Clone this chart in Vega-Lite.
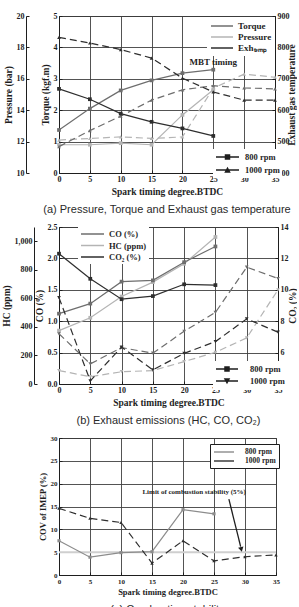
{
  "$schema": "https://vega.github.io/schema/vega-lite/v6.json",
  "padding": {"left": 0, "top": 11, "right": 0, "bottom": 0},
  "spacing": 7,
  "config": {
    "view": {"stroke": "#1e1e1e", "strokeWidth": 1},
    "axis": {
      "labelFont": "Liberation Serif", "labelFontWeight": "bold", "labelFontSize": 8, "labelColor": "#1e1e1e",
      "titleFont": "Liberation Serif", "titleFontWeight": "bold", "titleFontSize": 9.5, "titleColor": "#1e1e1e",
      "domainColor": "#1e1e1e", "domainWidth": 1, "tickColor": "#1e1e1e", "tickSize": -3, "labelPadding": 5,
      "gridColor": "#404040", "gridWidth": 0.9, "gridOpacity": 1, "titlePadding": 3,
      "labelFlush": false, "labelOverlap": false
    },
    "legend": {"labelFont": "Liberation Serif", "labelFontWeight": "bold", "labelColor": "#1e1e1e", "fillColor": "white"},
    "title": {"font": "Liberation Sans", "fontWeight": "normal", "fontSize": 11, "color": "#2a2a2a", "orient": "bottom", "anchor": "middle", "offset": 8}
  },
  "resolve": {"scale": {"color": "independent", "shape": "independent"}},
  "vconcat": [
    {
      "width": 216, "height": 157,
      "title": {"text": "(a) Pressure, Torque and Exhaust gas temperature"},
      "data": {"values": [
        {"q": "Torque", "rpm": "800 rpm", "x": 0, "v": 1.37},
        {"q": "Torque", "rpm": "800 rpm", "x": 5, "v": 2.05},
        {"q": "Torque", "rpm": "800 rpm", "x": 10, "v": 2.63},
        {"q": "Torque", "rpm": "800 rpm", "x": 15, "v": 2.95},
        {"q": "Torque", "rpm": "800 rpm", "x": 20, "v": 3.18},
        {"q": "Torque", "rpm": "800 rpm", "x": 25, "v": 3.29},
        {"q": "Torque", "rpm": "1000 rpm", "x": 0, "v": 0.84},
        {"q": "Torque", "rpm": "1000 rpm", "x": 5, "v": 1.35},
        {"q": "Torque", "rpm": "1000 rpm", "x": 10, "v": 1.81},
        {"q": "Torque", "rpm": "1000 rpm", "x": 15, "v": 2.32},
        {"q": "Torque", "rpm": "1000 rpm", "x": 20, "v": 2.65},
        {"q": "Torque", "rpm": "1000 rpm", "x": 25, "v": 2.78},
        {"q": "Torque", "rpm": "1000 rpm", "x": 30, "v": 2.71},
        {"q": "Torque", "rpm": "1000 rpm", "x": 35, "v": 2.68},
        {"q": "Pressure", "rpm": "800 rpm", "x": 0, "v": 11.8},
        {"q": "Pressure", "rpm": "800 rpm", "x": 5, "v": 11.8},
        {"q": "Pressure", "rpm": "800 rpm", "x": 10, "v": 11.9},
        {"q": "Pressure", "rpm": "800 rpm", "x": 15, "v": 11.8},
        {"q": "Pressure", "rpm": "800 rpm", "x": 20, "v": 13.7},
        {"q": "Pressure", "rpm": "800 rpm", "x": 25, "v": 15.3},
        {"q": "Pressure", "rpm": "1000 rpm", "x": 0, "v": 12.1},
        {"q": "Pressure", "rpm": "1000 rpm", "x": 5, "v": 12.2},
        {"q": "Pressure", "rpm": "1000 rpm", "x": 10, "v": 12.3},
        {"q": "Pressure", "rpm": "1000 rpm", "x": 15, "v": 12.2},
        {"q": "Pressure", "rpm": "1000 rpm", "x": 20, "v": 12.3},
        {"q": "Pressure", "rpm": "1000 rpm", "x": 25, "v": 15.4},
        {"q": "Pressure", "rpm": "1000 rpm", "x": 30, "v": 16.3},
        {"q": "Pressure", "rpm": "1000 rpm", "x": 35, "v": 16.1},
        {"q": "Exhₜₑₘₚ", "rpm": "800 rpm", "x": 0, "v": 668},
        {"q": "Exhₜₑₘₚ", "rpm": "800 rpm", "x": 5, "v": 635},
        {"q": "Exhₜₑₘₚ", "rpm": "800 rpm", "x": 10, "v": 589},
        {"q": "Exhₜₑₘₚ", "rpm": "800 rpm", "x": 15, "v": 563},
        {"q": "Exhₜₑₘₚ", "rpm": "800 rpm", "x": 20, "v": 542},
        {"q": "Exhₜₑₘₚ", "rpm": "800 rpm", "x": 25, "v": 518},
        {"q": "Exhₜₑₘₚ", "rpm": "1000 rpm", "x": 0, "v": 832},
        {"q": "Exhₜₑₘₚ", "rpm": "1000 rpm", "x": 5, "v": 814},
        {"q": "Exhₜₑₘₚ", "rpm": "1000 rpm", "x": 10, "v": 793},
        {"q": "Exhₜₑₘₚ", "rpm": "1000 rpm", "x": 15, "v": 766},
        {"q": "Exhₜₑₘₚ", "rpm": "1000 rpm", "x": 20, "v": 702},
        {"q": "Exhₜₑₘₚ", "rpm": "1000 rpm", "x": 25, "v": 658},
        {"q": "Exhₜₑₘₚ", "rpm": "1000 rpm", "x": 30, "v": 632},
        {"q": "Exhₜₑₘₚ", "rpm": "1000 rpm", "x": 35, "v": 632}
      ]},
      "encoding": {
        "x": {"field": "x", "type": "quantitative", "scale": {"domain": [0, 35], "nice": false},
              "axis": {"values": [0, 5, 10, 15, 20, 25, 30, 35], "title": "Spark timing degree.BTDC", "grid": true}}
      },
      "layer": [
        {
          "transform": [{"filter": "datum.q === 'Pressure'"}],
          "encoding": {"y": {"field": "v", "type": "quantitative", "scale": {"domain": [10, 20], "nice": false},
            "axis": {"orient": "left", "offset": 33, "values": [10, 12, 14, 16, 18, 20], "grid": false, "title": "Pressure (bar)"}}},
          "layer": [
            {"transform": [{"filter": "datum.rpm === '800 rpm'"}],
             "mark": {"type": "line", "strokeWidth": 1.2},
             "encoding": {"color": {"field": "q", "type": "nominal", "scale": {"domain": ["Torque", "Pressure", "Exhₜₑₘₚ"], "range": ["#6e6e6e", "#b4b4b4", "#2e2e2e"]},
               "legend": {"orient": "none", "legendX": 148, "legendY": 1, "title": null, "symbolType": "M-1,0H3.4", "symbolSize": 100, "symbolStrokeWidth": 1.5, "labelFontSize": 9, "padding": 3, "rowPadding": 0, "labelOffset": 16}}}},
            {"transform": [{"filter": "datum.rpm === '1000 rpm'"}],
             "mark": {"type": "line", "strokeWidth": 1.2, "strokeDash": [7, 4]},
             "encoding": {"color": {"field": "q", "type": "nominal", "scale": {"domain": ["Torque", "Pressure", "Exhₜₑₘₚ"], "range": ["#6e6e6e", "#b4b4b4", "#2e2e2e"]}}}},
            {"transform": [{"filter": "datum.rpm === '800 rpm'"}],
             "mark": {"type": "point", "shape": "square", "filled": true, "size": 14, "opacity": 1, "color": "#b4b4b4"}},
            {"transform": [{"filter": "datum.rpm === '1000 rpm'"}],
             "mark": {"type": "point", "shape": "triangle-up", "filled": true, "size": 14, "opacity": 1, "color": "#b4b4b4"}}
          ]
        },
        {
          "transform": [{"filter": "datum.q === 'Torque'"}],
          "encoding": {"y": {"field": "v", "type": "quantitative", "scale": {"domain": [0, 5], "nice": false},
            "axis": {"orient": "left", "values": [0, 1, 2, 3, 4, 5], "grid": true, "title": "Torque (kgf.m)"}}},
          "layer": [
            {"transform": [{"filter": "datum.rpm === '800 rpm'"}],
             "mark": {"type": "line", "strokeWidth": 1.2},
             "encoding": {"color": {"field": "q", "type": "nominal", "scale": {"domain": ["Torque", "Pressure", "Exhₜₑₘₚ"], "range": ["#6e6e6e", "#b4b4b4", "#2e2e2e"]}}}},
            {"transform": [{"filter": "datum.rpm === '1000 rpm'"}],
             "mark": {"type": "line", "strokeWidth": 1.2, "strokeDash": [7, 4]},
             "encoding": {"color": {"field": "q", "type": "nominal", "scale": {"domain": ["Torque", "Pressure", "Exhₜₑₘₚ"], "range": ["#6e6e6e", "#b4b4b4", "#2e2e2e"]}}}},
            {"transform": [{"filter": "datum.rpm === '800 rpm'"}],
             "mark": {"type": "point", "shape": "square", "filled": true, "size": 14, "opacity": 1, "color": "#6e6e6e"}},
            {"transform": [{"filter": "datum.rpm === '1000 rpm'"}],
             "mark": {"type": "point", "shape": "triangle-up", "filled": true, "size": 14, "opacity": 1, "color": "#6e6e6e"}},
            {"mark": {"type": "point", "filled": true, "size": 100, "opacity": 0, "color": "#1e1e1e"},
             "encoding": {"shape": {"field": "rpm", "type": "nominal",
               "scale": {"domain": ["800 rpm", "1000 rpm"], "range": ["M-1,-0.13H3.6V0.13H-1ZM0.75,-0.55H1.85V0.55H0.75Z", "M-1,-0.13H3.6V0.13H-1ZM1.3,-0.65L1.95,0.55H0.65Z"]},
               "legend": {"orient": "none", "legendX": 154, "legendY": 133, "title": null, "symbolSize": 100, "symbolOpacity": 1, "symbolFillColor": "#1e1e1e", "labelFontSize": 8.5, "padding": 2, "rowPadding": 0, "labelOffset": 18}}}}
          ]
        },
        {
          "transform": [{"filter": "datum.q === 'Exhₜₑₘₚ'"}],
          "encoding": {"y": {"field": "v", "type": "quantitative", "scale": {"domain": [400, 900], "nice": false},
            "axis": {"orient": "right", "values": [400, 500, 600, 700, 800, 900], "grid": false, "title": "Exhaust gas temperature", "titleAngle": 270, "titleBaseline": "top", "titlePadding": -3}}},
          "layer": [
            {"transform": [{"filter": "datum.rpm === '800 rpm'"}],
             "mark": {"type": "line", "strokeWidth": 1.2},
             "encoding": {"color": {"field": "q", "type": "nominal", "scale": {"domain": ["Torque", "Pressure", "Exhₜₑₘₚ"], "range": ["#6e6e6e", "#b4b4b4", "#2e2e2e"]}}}},
            {"transform": [{"filter": "datum.rpm === '1000 rpm'"}],
             "mark": {"type": "line", "strokeWidth": 1.2, "strokeDash": [7, 4]},
             "encoding": {"color": {"field": "q", "type": "nominal", "scale": {"domain": ["Torque", "Pressure", "Exhₜₑₘₚ"], "range": ["#6e6e6e", "#b4b4b4", "#2e2e2e"]}}}},
            {"transform": [{"filter": "datum.rpm === '800 rpm'"}],
             "mark": {"type": "point", "shape": "square", "filled": true, "size": 14, "opacity": 1, "color": "#2e2e2e"}},
            {"transform": [{"filter": "datum.rpm === '1000 rpm'"}],
             "mark": {"type": "point", "shape": "triangle-up", "filled": true, "size": 14, "opacity": 1, "color": "#2e2e2e"}}
          ]
        },
        {
          "data": {"values": [{"x": 25, "v": 3.55, "t": "MBT timing"}]},
          "mark": {"type": "text", "font": "Liberation Serif", "fontWeight": "bold", "fontSize": 9, "fill": "#1e1e1e"},
          "encoding": {
            "y": {"field": "v", "type": "quantitative", "scale": {"domain": [0, 5], "nice": false}, "axis": null},
            "text": {"field": "t"}
          }
        }
      ],
      "resolve": {"scale": {"y": "independent"}}
    },
    {
      "width": 219, "height": 157,
      "title": {"text": "(b) Exhaust emissions (HC, CO, CO₂)"},
      "data": {"values": [
        {"q": "CO (%)", "rpm": "800 rpm", "x": 0, "v": 1.12},
        {"q": "CO (%)", "rpm": "800 rpm", "x": 5, "v": 1.28},
        {"q": "CO (%)", "rpm": "800 rpm", "x": 10, "v": 1.63},
        {"q": "CO (%)", "rpm": "800 rpm", "x": 15, "v": 1.65},
        {"q": "CO (%)", "rpm": "800 rpm", "x": 20, "v": 1.94},
        {"q": "CO (%)", "rpm": "800 rpm", "x": 25, "v": 2.19},
        {"q": "CO (%)", "rpm": "1000 rpm", "x": 0, "v": 0.80},
        {"q": "CO (%)", "rpm": "1000 rpm", "x": 5, "v": 0.32},
        {"q": "CO (%)", "rpm": "1000 rpm", "x": 10, "v": 0.58},
        {"q": "CO (%)", "rpm": "1000 rpm", "x": 15, "v": 0.49},
        {"q": "CO (%)", "rpm": "1000 rpm", "x": 20, "v": 0.84},
        {"q": "CO (%)", "rpm": "1000 rpm", "x": 25, "v": 1.14},
        {"q": "CO (%)", "rpm": "1000 rpm", "x": 30, "v": 1.86},
        {"q": "CO (%)", "rpm": "1000 rpm", "x": 35, "v": 1.68},
        {"q": "HC (ppm)", "rpm": "800 rpm", "x": 0, "v": 374},
        {"q": "HC (ppm)", "rpm": "800 rpm", "x": 5, "v": 464},
        {"q": "HC (ppm)", "rpm": "800 rpm", "x": 10, "v": 613},
        {"q": "HC (ppm)", "rpm": "800 rpm", "x": 15, "v": 714},
        {"q": "HC (ppm)", "rpm": "800 rpm", "x": 20, "v": 842},
        {"q": "HC (ppm)", "rpm": "800 rpm", "x": 25, "v": 1030},
        {"q": "HC (ppm)", "rpm": "1000 rpm", "x": 0, "v": 94},
        {"q": "HC (ppm)", "rpm": "1000 rpm", "x": 5, "v": 51},
        {"q": "HC (ppm)", "rpm": "1000 rpm", "x": 10, "v": 86},
        {"q": "HC (ppm)", "rpm": "1000 rpm", "x": 15, "v": 94},
        {"q": "HC (ppm)", "rpm": "1000 rpm", "x": 20, "v": 157},
        {"q": "HC (ppm)", "rpm": "1000 rpm", "x": 25, "v": 222},
        {"q": "HC (ppm)", "rpm": "1000 rpm", "x": 30, "v": 323},
        {"q": "HC (ppm)", "rpm": "1000 rpm", "x": 35, "v": 660},
        {"q": "CO₂ (%)", "rpm": "800 rpm", "x": 0, "v": 12.3},
        {"q": "CO₂ (%)", "rpm": "800 rpm", "x": 5, "v": 10.7},
        {"q": "CO₂ (%)", "rpm": "800 rpm", "x": 10, "v": 9.4},
        {"q": "CO₂ (%)", "rpm": "800 rpm", "x": 15, "v": 9.6},
        {"q": "CO₂ (%)", "rpm": "800 rpm", "x": 20, "v": 10.35},
        {"q": "CO₂ (%)", "rpm": "800 rpm", "x": 25, "v": 10.3},
        {"q": "CO₂ (%)", "rpm": "1000 rpm", "x": 0, "v": 9.5},
        {"q": "CO₂ (%)", "rpm": "1000 rpm", "x": 5, "v": 4.2},
        {"q": "CO₂ (%)", "rpm": "1000 rpm", "x": 10, "v": 6.35},
        {"q": "CO₂ (%)", "rpm": "1000 rpm", "x": 15, "v": 4.9},
        {"q": "CO₂ (%)", "rpm": "1000 rpm", "x": 20, "v": 5.95},
        {"q": "CO₂ (%)", "rpm": "1000 rpm", "x": 25, "v": 6.7},
        {"q": "CO₂ (%)", "rpm": "1000 rpm", "x": 30, "v": 8.15},
        {"q": "CO₂ (%)", "rpm": "1000 rpm", "x": 35, "v": 7.3}
      ]},
      "encoding": {
        "x": {"field": "x", "type": "quantitative", "scale": {"domain": [0, 35], "nice": false},
              "axis": {"values": [0, 5, 10, 15, 20, 25, 30, 35], "title": "Spark timing degree.BTDC", "grid": true}}
      },
      "layer": [
        {
          "transform": [{"filter": "datum.q === 'HC (ppm)'"}],
          "encoding": {"y": {"field": "v", "type": "quantitative", "scale": {"domain": [0, 1100], "nice": false},
            "axis": {"orient": "left", "offset": 25, "values": [0, 200, 400, 600, 800, 1000], "grid": false, "title": "HC (ppm)"}}},
          "layer": [
            {"transform": [{"filter": "datum.rpm === '800 rpm'"}],
             "mark": {"type": "line", "strokeWidth": 1.2},
             "encoding": {"color": {"field": "q", "type": "nominal", "scale": {"domain": ["CO (%)", "HC (ppm)", "CO₂ (%)"], "range": ["#6e6e6e", "#b4b4b4", "#2e2e2e"]},
               "legend": {"orient": "none", "legendX": 19, "legendY": -1, "title": null, "symbolType": "M-1,0H3.6", "symbolSize": 100, "symbolStrokeWidth": 1.5, "labelFontSize": 8.5, "padding": 2, "rowPadding": 0.5, "labelOffset": 17}}}},
            {"transform": [{"filter": "datum.rpm === '1000 rpm'"}],
             "mark": {"type": "line", "strokeWidth": 1.2, "strokeDash": [7, 4]},
             "encoding": {"color": {"field": "q", "type": "nominal", "scale": {"domain": ["CO (%)", "HC (ppm)", "CO₂ (%)"], "range": ["#6e6e6e", "#b4b4b4", "#2e2e2e"]}}}},
            {"transform": [{"filter": "datum.rpm === '800 rpm'"}],
             "mark": {"type": "point", "shape": "square", "filled": true, "size": 14, "opacity": 1, "color": "#b4b4b4"}},
            {"transform": [{"filter": "datum.rpm === '1000 rpm'"}],
             "mark": {"type": "point", "shape": "triangle-down", "filled": true, "size": 14, "opacity": 1, "color": "#b4b4b4"}}
          ]
        },
        {
          "transform": [{"filter": "datum.q === 'CO (%)'"}],
          "encoding": {"y": {"field": "v", "type": "quantitative", "scale": {"domain": [0, 2.5], "nice": false},
            "axis": {"orient": "left", "values": [0, 0.5, 1, 1.5, 2, 2.5], "format": ".1f", "grid": true, "title": "CO (%)"}}},
          "layer": [
            {"transform": [{"filter": "datum.rpm === '800 rpm'"}],
             "mark": {"type": "line", "strokeWidth": 1.2},
             "encoding": {"color": {"field": "q", "type": "nominal", "scale": {"domain": ["CO (%)", "HC (ppm)", "CO₂ (%)"], "range": ["#6e6e6e", "#b4b4b4", "#2e2e2e"]}}}},
            {"transform": [{"filter": "datum.rpm === '1000 rpm'"}],
             "mark": {"type": "line", "strokeWidth": 1.2, "strokeDash": [7, 4]},
             "encoding": {"color": {"field": "q", "type": "nominal", "scale": {"domain": ["CO (%)", "HC (ppm)", "CO₂ (%)"], "range": ["#6e6e6e", "#b4b4b4", "#2e2e2e"]}}}},
            {"transform": [{"filter": "datum.rpm === '800 rpm'"}],
             "mark": {"type": "point", "shape": "square", "filled": true, "size": 14, "opacity": 1, "color": "#6e6e6e"}},
            {"transform": [{"filter": "datum.rpm === '1000 rpm'"}],
             "mark": {"type": "point", "shape": "triangle-down", "filled": true, "size": 14, "opacity": 1, "color": "#6e6e6e"}},
            {"mark": {"type": "point", "filled": true, "size": 100, "opacity": 0, "color": "#1e1e1e"},
             "encoding": {"shape": {"field": "rpm", "type": "nominal",
               "scale": {"domain": ["800 rpm", "1000 rpm"], "range": ["M-1,-0.13H3.4V0.13H-1ZM0.65,-0.55H1.75V0.55H0.65Z", "M-1,-0.13H3.4V0.13H-1ZM0.55,-0.55H1.85L1.2,0.65Z"]},
               "legend": {"orient": "none", "legendX": 154, "legendY": 134, "title": null, "symbolSize": 100, "symbolOpacity": 1, "symbolFillColor": "#1e1e1e", "labelFontSize": 8.5, "padding": 2, "rowPadding": 0, "labelOffset": 23}}}}
          ]
        },
        {
          "transform": [{"filter": "datum.q === 'CO₂ (%)'"}],
          "encoding": {"y": {"field": "v", "type": "quantitative", "scale": {"domain": [4, 14], "nice": false},
            "axis": {"orient": "right", "values": [4, 6, 8, 10, 12, 14], "grid": false, "title": "CO₂ (%)", "titleAngle": 270, "titleBaseline": "top", "titlePadding": -1}}},
          "layer": [
            {"transform": [{"filter": "datum.rpm === '800 rpm'"}],
             "mark": {"type": "line", "strokeWidth": 1.2},
             "encoding": {"color": {"field": "q", "type": "nominal", "scale": {"domain": ["CO (%)", "HC (ppm)", "CO₂ (%)"], "range": ["#6e6e6e", "#b4b4b4", "#2e2e2e"]}}}},
            {"transform": [{"filter": "datum.rpm === '1000 rpm'"}],
             "mark": {"type": "line", "strokeWidth": 1.2, "strokeDash": [7, 4]},
             "encoding": {"color": {"field": "q", "type": "nominal", "scale": {"domain": ["CO (%)", "HC (ppm)", "CO₂ (%)"], "range": ["#6e6e6e", "#b4b4b4", "#2e2e2e"]}}}},
            {"transform": [{"filter": "datum.rpm === '800 rpm'"}],
             "mark": {"type": "point", "shape": "square", "filled": true, "size": 14, "opacity": 1, "color": "#2e2e2e"}},
            {"transform": [{"filter": "datum.rpm === '1000 rpm'"}],
             "mark": {"type": "point", "shape": "triangle-down", "filled": true, "size": 14, "opacity": 1, "color": "#2e2e2e"}}
          ]
        }
      ],
      "resolve": {"scale": {"y": "independent"}}
    },
    {
      "width": 217, "height": 137,
      "title": {"text": "(c) Combustion stability"},
      "encoding": {
        "x": {"field": "x", "type": "quantitative", "scale": {"domain": [0, 35], "nice": false},
              "axis": {"values": [0, 5, 10, 15, 20, 25, 30, 35], "title": "Spark timing degree.BTDC", "grid": true, "labelFontSize": 7, "titleFontSize": 8.5}},
        "y": {"field": "v", "type": "quantitative", "scale": {"domain": [0, 30], "nice": false},
              "axis": {"values": [0, 5, 10, 15, 20, 25, 30], "title": "COV of IMEP (%)", "grid": true, "labelFontSize": 7, "titleFontSize": 8.5}}
      },
      "layer": [
        {
          "data": {"values": [{"v": 5}]},
          "mark": {"type": "rule", "color": "#cfcfcf", "strokeWidth": 2},
          "encoding": {"x": null}
        },
        {
          "data": {"values": [
            {"rpm": "800 rpm", "x": 0, "v": 7.5},
            {"rpm": "800 rpm", "x": 5, "v": 3.9},
            {"rpm": "800 rpm", "x": 10, "v": 4.9},
            {"rpm": "800 rpm", "x": 15, "v": 5.1},
            {"rpm": "800 rpm", "x": 20, "v": 14.3},
            {"rpm": "800 rpm", "x": 25, "v": 13.4},
            {"rpm": "1000 rpm", "x": 0, "v": 14.6},
            {"rpm": "1000 rpm", "x": 5, "v": 12.4},
            {"rpm": "1000 rpm", "x": 10, "v": 11.5},
            {"rpm": "1000 rpm", "x": 15, "v": 2.6},
            {"rpm": "1000 rpm", "x": 20, "v": 7.5},
            {"rpm": "1000 rpm", "x": 25, "v": 3.1},
            {"rpm": "1000 rpm", "x": 30, "v": 4.0},
            {"rpm": "1000 rpm", "x": 35, "v": 4.4}
          ]},
          "layer": [
            {"transform": [{"filter": "datum.rpm === '800 rpm'"}],
             "mark": {"type": "line", "strokeWidth": 1.2},
             "encoding": {"color": {"field": "rpm", "type": "nominal", "scale": {"domain": ["800 rpm", "1000 rpm"], "range": ["#8c8c8c", "#2e2e2e"]},
               "legend": {"orient": "none", "legendX": 151, "legendY": 6, "title": null, "symbolType": "M-1,0H4", "symbolSize": 64, "symbolStrokeWidth": 1.4, "labelFontSize": 7.5, "strokeColor": "#1e1e1e", "padding": 3, "rowPadding": 0, "labelOffset": 22}}}},
            {"transform": [{"filter": "datum.rpm === '1000 rpm'"}],
             "mark": {"type": "line", "strokeWidth": 1.2, "strokeDash": [7, 4]},
             "encoding": {"color": {"field": "rpm", "type": "nominal", "scale": {"domain": ["800 rpm", "1000 rpm"], "range": ["#8c8c8c", "#2e2e2e"]}}}},
            {"transform": [{"filter": "datum.rpm === '800 rpm'"}],
             "mark": {"type": "point", "shape": "square", "filled": true, "size": 10, "opacity": 1, "color": "#8c8c8c"}},
            {"transform": [{"filter": "datum.rpm === '1000 rpm'"}],
             "mark": {"type": "point", "shape": "triangle-up", "filled": true, "size": 12, "opacity": 1, "color": "#2e2e2e"}}
          ]
        },
        {
          "data": {"values": [{"x": 21.8, "v": 18.1, "t": "Limit of combustion stability (5%)"}]},
          "mark": {"type": "text", "font": "Liberation Serif", "fontWeight": "bold", "fontSize": 7, "fill": "#1e1e1e", "color": "#1e1e1e"},
          "encoding": {"text": {"field": "t"}}
        },
        {
          "data": {"values": [{"x": 27.4, "v": 16.6, "x2": 29.3, "v2": 6.2}]},
          "mark": {"type": "rule", "color": "#1e1e1e", "strokeWidth": 1.3},
          "encoding": {"x2": {"field": "x2"}, "y2": {"field": "v2"}}
        },
        {
          "data": {"values": [{"x": 29.4, "v": 5.6}]},
          "mark": {"type": "point", "shape": "triangle-down", "filled": true, "color": "#1e1e1e", "size": 30, "angle": 347, "opacity": 1}
        }
      ]
    }
  ]
}
